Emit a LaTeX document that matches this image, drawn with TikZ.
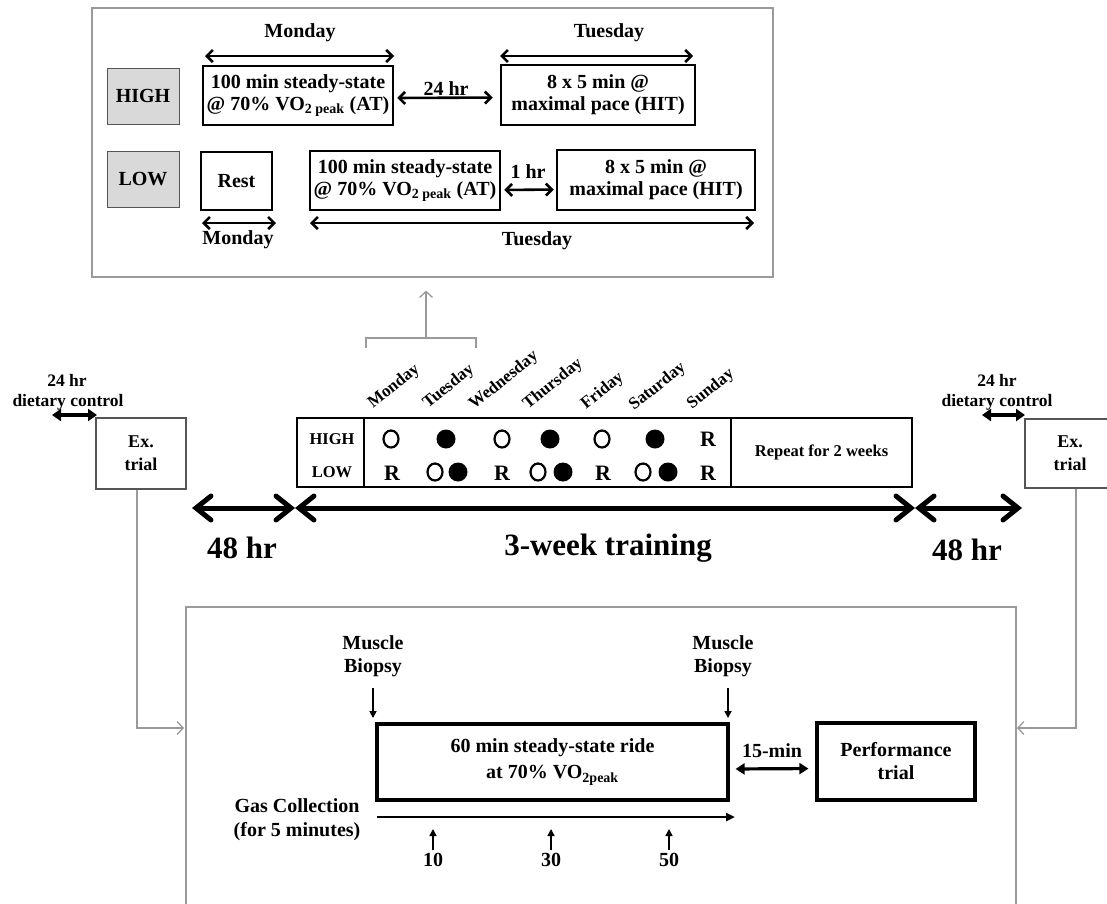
\documentclass[tikz,border=0pt]{standalone}
\usepackage{fontspec}
\setmainfont{Liberation Serif}
\usetikzlibrary{arrows.meta,calc,shapes.geometric}
\definecolor{gline}{HTML}{9A9A9A}
\definecolor{gfill}{HTML}{D9D9D9}
\definecolor{dgray}{HTML}{555555}
\begin{document}
\begin{tikzpicture}[x=1pt,y=-1pt,
  txt/.style={font=\bfseries\fontsize{20}{22}\selectfont, inner sep=0pt, align=center},
  txts/.style={font=\bfseries\fontsize{16.5}{19}\selectfont, inner sep=0pt, align=center},
  txtm/.style={font=\bfseries\fontsize{17.5}{22}\selectfont, inner sep=0pt, align=center},
  txtb/.style={font=\bfseries\fontsize{31}{34}\selectfont, inner sep=0pt, align=center},
  tbox/.style={txt, draw, line width=2.5pt},
  bbox/.style={txt, draw, line width=3.2pt},
  lbox/.style={txt, draw=dgray, fill=gfill, line width=1pt},
  exbox/.style={txtm, draw=dgray, line width=1.3pt, font=\bfseries\fontsize{18}{23}\selectfont},
  gframe/.style={draw=gline, line width=1.2pt},
  garrow/.style={draw=gline, line width=1.3pt, -{Straight Barb[length=6pt,width=13pt]}},
  tarrow/.style={line width=2.6pt, {Straight Barb[length=6pt,width=12pt]}-{Straight Barb[length=6pt,width=12pt]}},
  bigarrow/.style={line width=5pt, line cap=round, {Straight Barb[length=15pt,width=24pt,line cap=round]}-{Straight Barb[length=15pt,width=24pt,line cap=round]}},
  diet/.style={line width=4.5pt, {Triangle[length=9pt,width=12pt]}-{Triangle[length=9pt,width=12pt]}},
  oc/.style={ellipse, draw, line width=2.2pt, minimum width=15pt, minimum height=17pt, inner sep=0pt},
  fc/.style={circle, fill, minimum size=19pt, inner sep=0pt},
  rr/.style={font=\bfseries\fontsize{22}{22}\selectfont, inner sep=0pt},
  daylab/.style={font=\bfseries\fontsize{17}{18}\selectfont, inner sep=0pt, rotate=39, anchor=base west},
  darrow/.style={line width=1.6pt, -{Triangle[length=7pt,width=7pt]}},
]
\useasboundingbox (0,0) rectangle (1107,903);
\fill[white] (0,0) rectangle (1107,903);

% ---------- top detail frame ----------
\node[gframe, minimum width=681pt, minimum height=269pt, inner sep=0pt] (topframe) at (432.5,142.5) {};
\node[lbox, minimum width=72pt, minimum height=56pt] (highlab) at (143,96) {HIGH};
\node[lbox, minimum width=72pt, minimum height=56pt] (lowlab) at (143,179) {LOW};
\node[tbox, minimum width=190pt, minimum height=59pt] (boxA) at (298,95.5) {100 min steady-state\\@ 70\% VO\textsubscript{2 peak} (AT)};
\node[tbox, minimum width=194pt, minimum height=60pt] (boxB) at (598,95) {8 x 5 min @\\maximal pace (HIT)};
\node[tbox, minimum width=71pt, minimum height=58pt] (rest) at (236.5,181) {Rest};
\node[tbox, minimum width=190pt, minimum height=59pt] (boxC) at (405,180.5) {100 min steady-state\\@ 70\% VO\textsubscript{2 peak} (AT)};
\node[tbox, minimum width=198pt, minimum height=60pt] (boxD) at (656,180) {8 x 5 min @\\maximal pace (HIT)};

\coordinate (mA1) at (205,56); \coordinate (mA2) at (394,56);
\coordinate (tB1) at (500,56); \coordinate (tB2) at (693,56);
\coordinate (mR1) at (202,223); \coordinate (mR2) at (276,223);
\coordinate (tC1) at (310,223); \coordinate (tC2) at (754,223);
\draw[tarrow] (mA1) -- (mA2);
\draw[tarrow] (tB1) -- (tB2);
\draw[tarrow] (mR1) -- (mR2);
\draw[tarrow] (tC1) -- (tC2);
\draw[tarrow, shorten <=3pt, shorten >=7pt] ([yshift=-2.5pt]boxA.east) -- ([yshift=-2.5pt]boxB.west);
\draw[tarrow, shorten <=3pt, shorten >=2pt] ([yshift=-9.5pt]boxC.east) -- ([yshift=-9.5pt]boxD.west);
\node[txt] (lmonA) at (300,33) {Monday};
\node[txt] (ltueB) at (609,33) {Tuesday};
\node[txt] (l24) at (446,89) {24 hr};
\node[txt] (l1) at (528,172) {1 hr};
\node[txt] (lmonR) at (238,240) {Monday};
\node[txt] (ltueC) at (537,241) {Tuesday};

% bracket + arrow to the top frame
\coordinate (bl) at (366,348); \coordinate (blt) at (366,338);
\coordinate (br) at (476,348); \coordinate (brt) at (476,338);
\coordinate (bm) at (426,338);
\draw[gframe] (bl) -- (blt) -- (brt) -- (br);
\draw[garrow, shorten >=13pt] (bm) -- (bm |- topframe.south);

% ---------- training table ----------
\node[txts, draw, line width=2.5pt, minimum width=67pt, minimum height=69pt] (tlab) at (330.5,452.5) {};
\node[draw, line width=2.5pt, minimum width=367pt, minimum height=69pt, inner sep=0pt] (tdays) at (547.5,452.5) {};
\node[txts, draw, line width=2.5pt, minimum width=181pt, minimum height=69pt] (trep) at (821.5,452.5) {Repeat for 2 weeks};
\node[txts] (thigh) at (332,439) {HIGH};
\node[txts] (tlow) at (332,472) {LOW};

\node[daylab] (dmon) at (373,409) {Monday};
\node[daylab] (dtue) at (428,409) {Tuesday};
\node[daylab] (dwed) at (474,410) {Wednesday};
\node[daylab] (dthu) at (528,410) {Thursday};
\node[daylab] (dfri) at (586,410) {Friday};
\node[daylab] (dsat) at (634,411) {Saturday};
\node[daylab] (dsun) at (692,410) {Sunday};

\node[oc] (h1) at (391,439) {};
\node[fc] (h2) at (446,439) {};
\node[oc] (h3) at (502,439) {};
\node[fc] (h4) at (550,439) {};
\node[oc] (h5) at (602,439) {};
\node[fc] (h6) at (655,439) {};
\node[rr] (h7) at (708,439) {R};

\node[rr] (l1r) at (392,473) {R};
\node[oc] (l2a) at (435,472) {};
\node[fc] (l2b) at (458,472) {};
\node[rr] (l3r) at (502,473) {R};
\node[oc] (l4a) at (538,472) {};
\node[fc] (l4b) at (563,472) {};
\node[rr] (l5r) at (603,473) {R};
\node[oc] (l6a) at (643,472) {};
\node[fc] (l6b) at (668,472) {};
\node[rr] (l7r) at (708,473) {R};

% ---------- Ex. trial boxes ----------
\node[exbox, minimum width=90pt, minimum height=71pt] (exL) at (141,453.5) {Ex.\\trial};
\node[exbox, minimum width=90pt, minimum height=69pt] (exR) at (1070,453.5) {Ex.\\trial};
\node[txtm] (d24L) at (67,380) {24 hr};
\node[txtm] (ddcL) at (68,402) {dietary control};
\node[txtm] (d24R) at (997,380) {24 hr};
\node[txtm] (ddcR) at (997,402) {dietary control};
\coordinate (dL1) at (52,415); \coordinate (dL2) at (97,415);
\coordinate (dR1) at (982,415); \coordinate (dR2) at (1025,415);
\draw[diet] (dL1) -- (dL2);
\draw[diet] (dR1) -- (dR2);

% ---------- big timeline ----------
\coordinate (p1) at (192,508); \coordinate (p2) at (295,508);
\coordinate (p3) at (915,508); \coordinate (p4) at (1022,508);
\draw[bigarrow] (p1) -- (p2);
\draw[bigarrow] (p2) -- (p3);
\draw[bigarrow] (p3) -- (p4);
\node[txtb] (h48L) at (242,548) {48 hr};
\node[txtb] (h3w) at (608,548) {3-week training};
\node[txtb] (h48R) at (967,550) {48 hr};

% ---------- bottom detail frame ----------
\coordinate (bf1) at (186,910); \coordinate (bf2) at (186,607);
\coordinate (bf3) at (1016,607); \coordinate (bf4) at (1016,910);
\draw[gframe] (bf1) -- (bf2) -- (bf3) -- (bf4);
\coordinate (bfL) at (186,728); \coordinate (bfR) at (1016,728);
\draw[garrow, shorten >=2pt] ([xshift=-4pt]exL.south) |- (bfL);
\draw[garrow, shorten >=1pt] ([xshift=6pt]exR.south) |- (bfR);

\node[bbox, minimum width=351pt, minimum height=76pt, font=\bfseries\fontsize{20}{26}\selectfont] (boxE) at (552.5,762) {60 min steady-state ride\\at 70\% VO\textsubscript{2peak}};
\node[bbox, minimum width=158pt, minimum height=77pt, font=\bfseries\fontsize{20}{23}\selectfont] (perf) at (896,761.5) {Performance\\trial};
\node[txt, font=\bfseries\fontsize{20}{23}\selectfont] (musL) at (373,656) {Muscle\\Biopsy};
\node[txt, font=\bfseries\fontsize{20}{23}\selectfont] (musR) at (723,656) {Muscle\\Biopsy};
\coordinate (mbL) at (373,718); \coordinate (mbR) at (728,718);
\coordinate (mbLs) at (373,688); \coordinate (mbRs) at (728,688);
\draw[darrow] (mbLs) -- (mbL);
\draw[darrow] (mbRs) -- (mbR);

\node[txt] (fifteen) at (772,751) {15-min};
\draw[line width=3.2pt, {Triangle[length=9pt,width=11pt]}-{Triangle[length=9pt,width=11pt]}, shorten <=6pt, shorten >=7pt] ([yshift=-7pt]boxE.east) -- ([yshift=-7pt]perf.west);

\node[txt, font=\bfseries\fontsize{20}{24}\selectfont] (gas) at (297,820) {Gas Collection\\(for 5 minutes)};
\coordinate (tl1) at (377,817); \coordinate (tl2) at (735,817);
\draw[line width=2.2pt, -{Triangle[length=9pt,width=8pt]}] (tl1) -- (tl2);

\node[txt] (n10) at (433,860) {10};
\node[txt] (n30) at (551,860) {30};
\node[txt] (n50) at (669,860) {50};
\coordinate (u10) at (433,829); \coordinate (u30) at (551,829); \coordinate (u50) at (669,829);
\draw[darrow, shorten <=3pt] (n10.north) -- (u10);
\draw[darrow, shorten <=3pt] (n30.north) -- (u30);
\draw[darrow, shorten <=3pt] (n50.north) -- (u50);
\end{tikzpicture}
\end{document}
